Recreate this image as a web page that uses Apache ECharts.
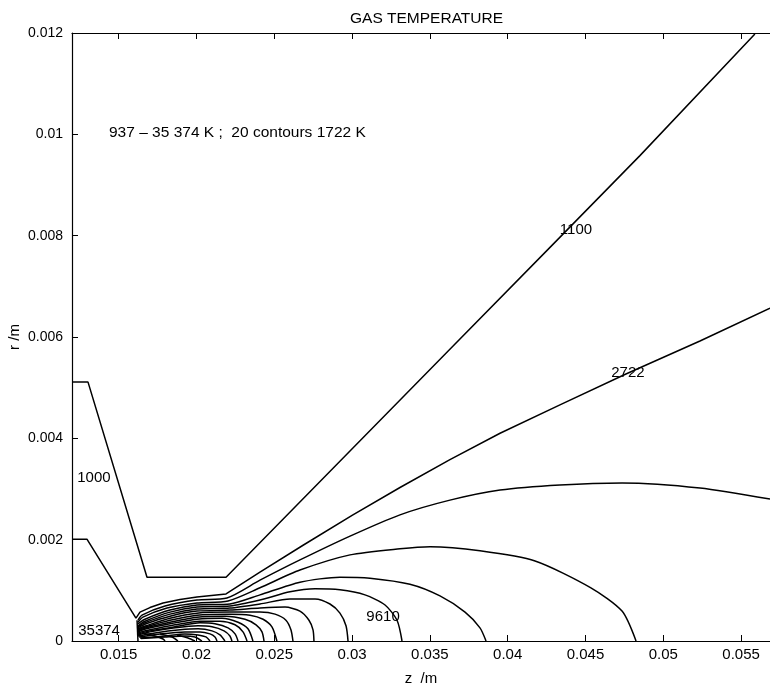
<!DOCTYPE html>
<html>
<head>
<meta charset="utf-8">
<title>Gas temperature</title>
<script src="https://cdn.jsdelivr.net/npm/echarts@6/dist/echarts.min.js"></script>
<style>
  html, body { margin: 0; padding: 0; background: #fff; }
  #gas-temperature { width: 770px; height: 689px; }
</style>
</head>
<body>
<div id="gas-temperature"></div>
<script>
  // z ticks (m)
  var zTicks = [0.015, 0.02, 0.025, 0.03, 0.035, 0.04, 0.045, 0.05, 0.055]

  // contour lines, [z, r] in metres
  var c1000 = [[0.0120,0.00511],[0.01303,0.00511],[0.01682,0.00126],[0.0219,0.00126],[0.03616,0.00572],[0.0425,0.0077],[0.0485,0.00958],[0.05589,0.01198]]
  var c2722 = [[0.0120,0.00201],[0.01296,0.00201],[0.01611,0.00045],[0.01637,0.00057],[0.01701,0.00066],[0.01785,0.00075],[0.01894,0.00082],[0.02003,0.00087],[0.0219,0.00093],[0.02408,0.00136],[0.02685,0.00189],[0.03,0.00248],[0.03308,0.00303],[0.03629,0.00358],[0.03951,0.00410],[0.04336,0.00466],[0.0476,0.00527],[0.05236,0.00592],[0.05686,0.00657]]
  var c4444 = [[0.01624,0.00041],[0.0165,0.00051],[0.01798,0.00069],[0.02003,0.00081],[0.02196,0.00085],[0.02408,0.0012],[0.02665,0.0016],[0.02987,0.00207],[0.03308,0.00249],[0.03629,0.00278],[0.03951,0.00298],[0.04336,0.00308],[0.04735,0.00312],[0.05236,0.00302],[0.05686,0.0028]]
  var c6166 = [[0.01624,0.00037],[0.01656,0.00047],[0.01811,0.00065],[0.02003,0.00075],[0.02203,0.00079],[0.02408,0.00105],[0.02665,0.0014],[0.02987,0.0017],[0.03308,0.00182],[0.03501,0.00186],[0.03822,0.00178],[0.04176,0.00158],[0.04535,0.00105],[0.04735,0.00059],[0.04825,0]]
  var c7888 = [[0.01624,0.00034],[0.01669,0.00043],[0.0183,0.00061],[0.02003,0.00071],[0.02215,0.00073],[0.02408,0.00091],[0.02665,0.00116],[0.02922,0.00126],[0.03115,0.00124],[0.03372,0.00112],[0.03565,0.00089],[0.03726,0.00057],[0.03822,0.00026],[0.03861,0]]
  var c9610 = [[0.01624,0.0003],[0.01669,0.00039],[0.0183,0.00057],[0.02003,0.00067],[0.02215,0.00069],[0.02408,0.00081],[0.02601,0.00097],[0.02762,0.00103],[0.02922,0.00101],[0.03083,0.00091],[0.03212,0.00071],[0.03289,0.00041],[0.03321,0]]
  var c11332 = [[0.01624,0.00028],[0.01669,0.00036],[0.0183,0.00053],[0.02003,0.00063],[0.02215,0.00065],[0.02408,0.00073],[0.02601,0.00083],[0.02762,0.00083],[0.02858,0.00073],[0.02922,0.00055],[0.02961,0.0003],[0.02974,0]]
  var c13054 = [[0.01624,0.00026],[0.01676,0.00034],[0.0183,0.00049],[0.02003,0.00059],[0.02215,0.00061],[0.02408,0.00065],[0.02569,0.00067],[0.02665,0.00059],[0.02723,0.00041],[0.02749,0.00022],[0.02755,0]]
  var c14776 = [[0.01624,0.00024],[0.01676,0.0003],[0.0183,0.00045],[0.02003,0.00055],[0.02215,0.00057],[0.02408,0.00057],[0.02505,0.00053],[0.02575,0.00041],[0.02607,0.00022],[0.0262,0]]
  var c16498 = [[0.01624,0.00022],[0.01676,0.00028],[0.0183,0.00041],[0.02003,0.00051],[0.02215,0.00053],[0.02344,0.00051],[0.02428,0.00043],[0.02485,0.00028],[0.02517,0]]
  var c18220 = [[0.01624,0.0002],[0.01676,0.00026],[0.0183,0.00037],[0.02003,0.00047],[0.02183,0.00049],[0.02312,0.00043],[0.02383,0.00032],[0.02421,0.00018],[0.02434,0]]
  var c19942 = [[0.01624,0.00018],[0.01676,0.00024],[0.0183,0.00034],[0.02003,0.00043],[0.02164,0.00045],[0.02267,0.00037],[0.02331,0.00024],[0.02363,0]]
  var c21664 = [[0.01624,0.00016],[0.01701,0.00022],[0.01862,0.00032],[0.02023,0.00039],[0.02151,0.00039],[0.02248,0.00032],[0.02299,0.00018],[0.02325,0]]
  var c23386 = [[0.01624,0.00014],[0.01701,0.0002],[0.01862,0.00028],[0.02023,0.00036],[0.02119,0.00034],[0.02203,0.00026],[0.02248,0.00014],[0.02267,0]]
  var c25108 = [[0.01624,0.00012],[0.01701,0.00018],[0.01862,0.00026],[0.0201,0.0003],[0.021,0.00028],[0.02177,0.0002],[0.02215,0.0001],[0.02228,0]]
  var c26830 = [[0.01624,0.0001],[0.01733,0.00016],[0.01894,0.00022],[0.0201,0.00024],[0.021,0.0002],[0.02151,0.00012],[0.02183,0]]
  var c28552 = [[0.01631,0.00008],[0.01766,0.00014],[0.01926,0.00018],[0.02023,0.00018],[0.02087,0.00014],[0.02119,0.00008],[0.02132,0]]
  var c30274 = [[0.01637,0.00006],[0.01798,0.0001],[0.01926,0.00014],[0.0201,0.00012],[0.02061,0.00008],[0.02087,0]]
  var c31996 = [[0.01643,0.00005],[0.01798,0.00008],[0.01926,0.0001],[0.0199,0.00008],[0.02035,0]]
  // small arcs under the cathode tip
  var tipArc1 = [[0.0165,0.00016],[0.01733,0.0001],[0.01785,0.00004],[0.01798,0]]
  var tipArc2 = [[0.01766,0.00014],[0.01843,0.00008],[0.01881,0]]
  var tipArc3 = [[0.01875,0.00012],[0.01946,0.00006],[0.0199,0]]
  var cathodeTip = [[0.01618,0.00041],[0.01624,0]]

  var contourLabels = [
    [0.04439, 0.00811, '1100'],
    [0.04773, 0.00529, '2722'],
    [0.03199, 0.00047, '9610'],
    [0.01341, 0.00322, '1000'],
    [0.01374, 0.00020, '35374']
  ]

  var contours = [c1000, c2722, c4444, c6166, c7888, c9610, c11332, c13054, c14776, c16498,
    c18220, c19942, c21664, c23386, c25108, c26830, c28552, c30274, c31996,
    tipArc1, tipArc2, tipArc3, cathodeTip]
  var straight = [c1000, c2722, cathodeTip]

  var font = 'Liberation Sans, Arial, sans-serif'
  var myChart = echarts.init(document.getElementById('gas-temperature'))

  var series = contours.map(function (pts) {
    return {
      type: 'line',
      data: pts,
      showSymbol: false,
      smooth: straight.indexOf(pts) >= 0 ? false : 0.25,
      lineStyle: { color: '#000', width: 1.5 },
      silent: true
    }
  })
  series.push({
    type: 'scatter',
    data: contourLabels,
    symbolSize: 1,
    itemStyle: { color: 'transparent', opacity: 1 },
    label: {
      show: true,
      position: 'inside',
      color: '#000',
      textBorderWidth: 0,
      fontFamily: font,
      fontSize: 15,
      formatter: function (p) { return p.data[2] }
    },
    silent: true
  })

  myChart.setOption({
    backgroundColor: '#fff',
    animation: false,
    title: {
      text: 'GAS TEMPERATURE',
      left: 345,
      top: 6,
      textStyle: { color: '#000', fontFamily: font, fontSize: 15.5, fontWeight: 'normal' }
    },
    grid: { left: 72, right: 0, top: 33, bottom: 48, outerBoundsMode: 'none' },
    xAxis: [{
      type: 'value',
      min: 0.012,
      max: 0.05686,
      name: 'z  /m',
      nameLocation: 'middle',
      nameGap: 30,
      nameTextStyle: { color: '#000', fontFamily: font, fontSize: 15 },
      axisLine: { lineStyle: { color: '#000', width: 1.2 } },
      axisTick: { inside: true, length: 6, lineStyle: { color: '#000' }, customValues: zTicks },
      axisLabel: { color: '#000', fontFamily: font, fontSize: 15, margin: 6, customValues: zTicks,
        formatter: function (v) { return String(v) } },
      splitLine: { show: false }
    }, {
      type: 'value',
      position: 'top',
      min: 0.012,
      max: 0.05686,
      axisLine: { lineStyle: { color: '#000', width: 1.2 } },
      axisTick: { inside: true, length: 6, lineStyle: { color: '#000' }, customValues: zTicks },
      axisLabel: { show: false },
      splitLine: { show: false }
    }],
    yAxis: {
      type: 'value',
      min: 0,
      max: 0.012,
      interval: 0.002,
      name: 'r /m',
      nameLocation: 'middle',
      nameGap: 50,
      nameMoveOverlap: false,
      nameTextStyle: { color: '#000', fontFamily: font, fontSize: 15 },
      axisLine: { show: true, lineStyle: { color: '#000', width: 1.2 } },
      axisTick: { show: true, inside: true, length: 6, lineStyle: { color: '#000' } },
      axisLabel: { color: '#000', fontFamily: font, fontSize: 14, margin: 9 },
      splitLine: { show: false }
    },
    graphic: [{
      type: 'text',
      left: 109,
      top: 125,
      style: { text: '937 \u2013 35 374 K ;  20 contours 1722 K', fill: '#000', font: '15.5px ' + font }
    }],
    series: series
  })
</script>
</body>
</html>
